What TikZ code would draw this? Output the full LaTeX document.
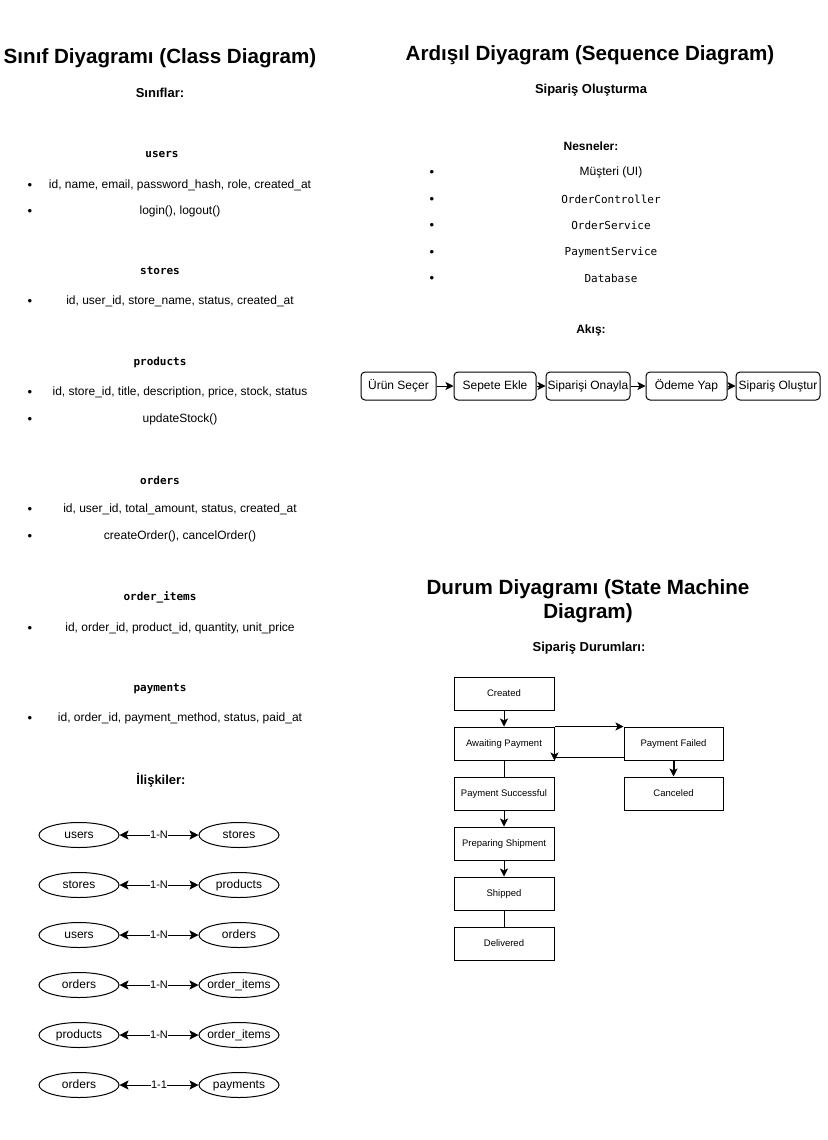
\documentclass[tikz,border=0pt]{standalone}
\usepackage{fontspec}
\setmainfont{Liberation Sans}
\setmonofont{DejaVu Sans Mono}
\usepackage{tikz}
\usetikzlibrary{shapes.misc, positioning, shapes.geometric, arrows.meta}
\tikzstyle{title} = [font=\fontsize{20.6}{24}\selectfont\bfseries, align=center]
\tikzstyle{subtitle} = [font=\fontsize{13}{16}\selectfont\bfseries]
\tikzstyle{minor} = [font=\fontsize{12}{14}\selectfont\bfseries]
\tikzstyle{cls} = [font=\fontsize{11}{13}\selectfont\ttfamily\bfseries]
\tikzstyle{item} = [font=\fontsize{12}{14}\selectfont]
\tikzstyle{obj} = [font=\fontsize{11}{13}\selectfont\ttfamily]
\tikzstyle{dot} = [font=\fontsize{13}{14}\selectfont]
\tikzstyle{entity} = [ellipse, draw=black, minimum width=80pt, minimum height=25pt, inner xsep=-10pt, inner ysep=0pt, text height=9pt, text depth=2.5pt, font=\fontsize{12}{14}\selectfont]
\tikzstyle{card} = [fill=white, inner sep=0.5pt, font=\fontsize{11}{13}\selectfont]
\tikzstyle{flowstep} = [rectangle, rounded corners=4pt, draw=black, minimum height=28pt, inner xsep=1pt, text height=9pt, text depth=2.5pt, text centered, font=\fontsize{12}{14}\selectfont]
\tikzstyle{statebox} = [rectangle, minimum width=100pt, minimum height=33pt, text height=7pt, text depth=2pt, text centered, draw=black, font=\fontsize{9.5}{11}\selectfont]
\tikzstyle{arrow} = [-{Stealth[length=8pt,width=8pt,inset=2pt]}]
\tikzstyle{both} = [{Stealth[length=9pt,width=9pt,inset=2pt]}-{Stealth[length=9pt,width=9pt,inset=2pt]}]
\def\lb{30}
\def\rb{432}

\begin{document}
\begin{tikzpicture}[x=1pt, y=-1pt, line width=1pt]
\useasboundingbox (0,0) rectangle (827,1140);

% class diagram
\node (clstitle) [title] at (160,58) {Sınıf Diyagramı (Class Diagram)};
\node (clshead) [subtitle] at (160,93) {Sınıflar:};

\node (users) [cls] at (162,154) {users};
\node [dot] at (\lb,186) {\textbullet};
\node (usersattr) [item] at (180,185) {id, name, email, password\_hash, role, created\_at};
\node [dot] at (\lb,212) {\textbullet};
\node (usersop) [item] at (180,211) {login(), logout()};

\node (stores) [cls] at (160,271) {stores};
\node [dot] at (\lb,302) {\textbullet};
\node (storesattr) [item] at (180,301) {id, user\_id, store\_name, status, created\_at};

\node (products) [cls] at (160,362) {products};
\node [dot] at (\lb,393) {\textbullet};
\node (productsattr) [item] at (180,392) {id, store\_id, title, description, price, stock, status};
\node [dot] at (\lb,420) {\textbullet};
\node (productsop) [item] at (180,419) {updateStock()};

\node (orders) [cls] at (160,480) {orders};
\node [dot] at (\lb,510) {\textbullet};
\node (ordersattr) [item] at (180,509) {id, user\_id, total\_amount, status, created\_at};
\node [dot] at (\lb,537) {\textbullet};
\node (ordersop) [item] at (180,536) {createOrder(), cancelOrder()};

\node (items) [cls] at (160,597) {order\_items};
\node [dot] at (\lb,629) {\textbullet};
\node (itemsattr) [item] at (180,628) {id, order\_id, product\_id, quantity, unit\_price};

\node (payments) [cls] at (160,689) {payments};
\node [dot] at (\lb,719) {\textbullet};
\node (paymentsattr) [item] at (180,718) {id, order\_id, payment\_method, status, paid\_at};

% relations
\node (relhead) [subtitle] at (161,780) {İlişkiler:};

\node (rel1a) [entity] at (79,835) {users};
\node (rel1b) [entity] at (239,835) {stores};
\draw [both] (rel1a) -- node[card] {1-N} (rel1b);
\node (rel2a) [entity] at (79,885) {stores};
\node (rel2b) [entity] at (239,885) {products};
\draw [both] (rel2a) -- node[card] {1-N} (rel2b);
\node (rel3a) [entity] at (79,935) {users};
\node (rel3b) [entity] at (239,935) {orders};
\draw [both] (rel3a) -- node[card] {1-N} (rel3b);
\node (rel4a) [entity] at (79,985) {orders};
\node (rel4b) [entity] at (239,985) {order\_items};
\draw [both] (rel4a) -- node[card] {1-N} (rel4b);
\node (rel5a) [entity] at (79,1035) {products};
\node (rel5b) [entity] at (239,1035) {order\_items};
\draw [both] (rel5a) -- node[card] {1-N} (rel5b);
\node (rel6a) [entity] at (79,1085) {orders};
\node (rel6b) [entity] at (239,1085) {payments};
\draw [both] (rel6a) -- node[card] {1-1} (rel6b);

% sequence diagram
\node (seqtitle) [title] at (590,55) {Ardışıl Diyagram (Sequence Diagram)};
\node (seqhead) [subtitle] at (591,90) {Sipariş Oluşturma};
\node (objhead) [minor] at (591,146) {Nesneler:};
\node [dot] at (\rb,173) {\textbullet};
\node (obj1) [item] at (611,172) {Müşteri (UI)};
\node [dot] at (\rb,200) {\textbullet};
\node (obj2) [obj] at (611,199) {OrderController};
\node [dot] at (\rb,226) {\textbullet};
\node (obj3) [obj] at (611,225) {OrderService};
\node [dot] at (\rb,253) {\textbullet};
\node (obj4) [obj] at (611,252) {PaymentService};
\node [dot] at (\rb,279) {\textbullet};
\node (obj5) [obj] at (611,278) {Database};
\node (flowhead) [minor] at (591,330) {Akış:};

\node (step1) [flowstep, minimum width=75pt] at (398.5,386) {Ürün Seçer};
\node (step2) [flowstep, minimum width=82pt] at (495,386) {Sepete Ekle};
\node (step3) [flowstep, minimum width=84pt] at (588,386) {Siparişi Onayla};
\node (step4) [flowstep, minimum width=81pt] at (686.5,386) {Ödeme Yap};
\node (step5) [flowstep, minimum width=84pt] at (778,386) {Sipariş Oluştur};
\draw [arrow] (step1) -- (step2);
\draw [arrow] (step2) -- (step3);
\draw [arrow] (step3) -- (step4);
\draw [arrow] (step4) -- (step5);

% state machine
\node (sttitle) [title] at (588,601) {Durum Diyagramı (State Machine\\Diagram)};
\node (sthead) [subtitle] at (589,648) {Sipariş Durumları:};

\node (created) [statebox] at (504,693.5) {Created};
\node (await) [statebox] at (504,743.5) {Awaiting Payment};
\node (success) [statebox] at (504,793.5) {Payment Successful};
\node (prep) [statebox] at (504,843.5) {Preparing Shipment};
\node (shipped) [statebox] at (504,893.5) {Shipped};
\node (delivered) [statebox] at (504,943.5) {Delivered};
\node (failed) [statebox, minimum width=99pt] at (673.5,743.5) {Payment Failed};
\node (canceled) [statebox, minimum width=99pt] at (673.5,793.5) {Canceled};

\draw [arrow] (created) -- (await);
\draw (await) -- (success);
\draw [arrow] (success) -- (prep);
\draw [arrow] (prep) -- (shipped);
\draw (shipped) -- (delivered);
\draw [arrow] (await.north east) -- (failed.north west);
\draw [arrow] ([yshift=3pt]failed.south west) -| (await.south east);
\draw [arrow, line width=2pt] (failed) -- (canceled);

\end{tikzpicture}
\end{document}
